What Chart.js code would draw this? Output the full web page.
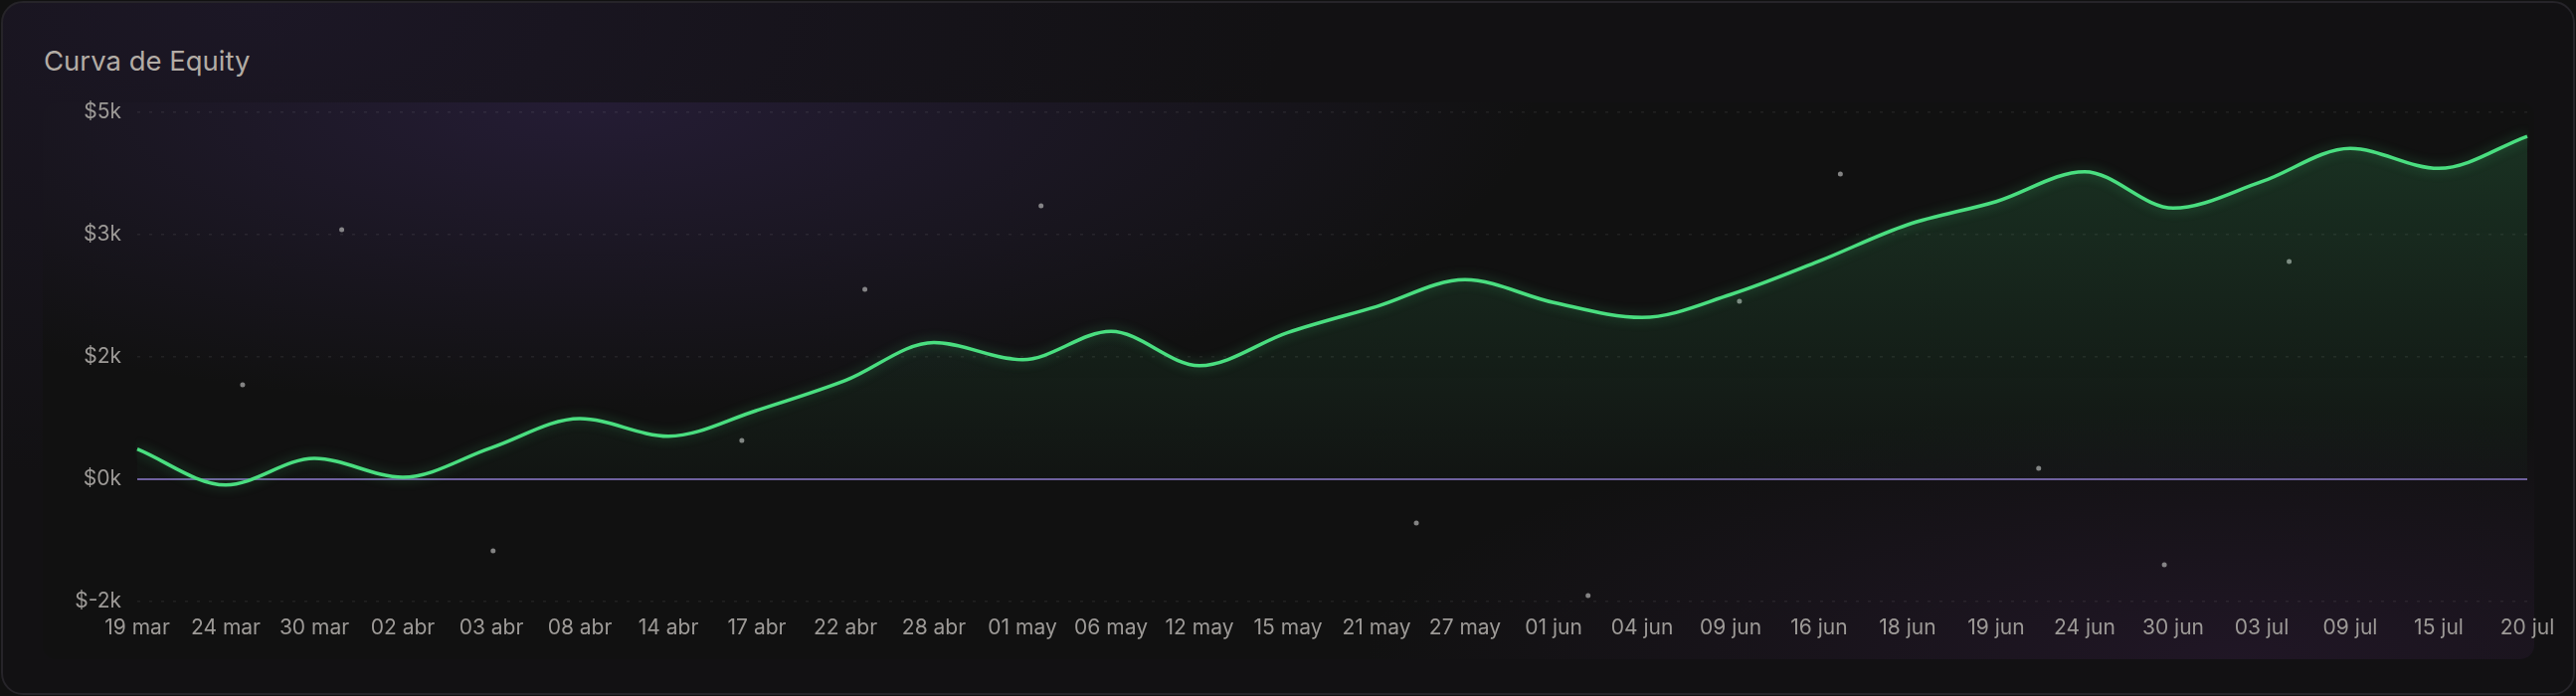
<!DOCTYPE html>
<html lang="es">
<head>
<meta charset="utf-8">
<title>Curva de Equity</title>
<script src="https://cdn.jsdelivr.net/npm/chart.js@4.4.1/dist/chart.umd.min.js"></script>
<style>
    html, body {
        margin: 0;
        padding: 0;
        background: #111111;
        width: 2590px;
        height: 700px;
        overflow: hidden;
        font-family: Inter, "Noto Sans", sans-serif;
    }
    .card {
        position: absolute;
        left: 1px;
        top: 1px;
        width: 2584px;
        height: 694px;
        border: 2px solid #262429;
        border-radius: 22px;
        background:
            radial-gradient(ellipse 40% 70% at 10% 0%, rgba(40, 30, 60, 0.45), transparent),
            #121113;
    }
    .card h2 {
        position: absolute;
        left: 41px;
        top: 41px;
        margin: 0;
        font-size: 27.5px;
        font-weight: 400;
        color: #b3aca5;
    }
    .panel {
        position: absolute;
        left: 43px;
        top: 103px;
        width: 2505px;
        height: 560px;
        border-radius: 14px;
        background:
            radial-gradient(ellipse 38% 55% at 22% 0%, rgba(60, 42, 95, 0.45), transparent),
            radial-gradient(ellipse 35% 45% at 88% 100%, rgba(60, 32, 75, 0.35), transparent),
            #111111;
    }
    #equity-chart {
        position: absolute;
        left: 0;
        top: 0;
    }
</style>
</head>
<body>
<div class="card"><h2>Curva de Equity</h2></div>
<div class="panel"></div>
<canvas id="equity-chart" width="2590" height="700"></canvas>
<script>
const dateLabels = [
    '19 mar', '24 mar', '30 mar', '02 abr', '03 abr', '08 abr', '14 abr', '17 abr', '22 abr', '28 abr',
    '01 may', '06 may', '12 may', '15 may', '21 may', '27 may',
    '01 jun', '04 jun', '09 jun', '16 jun', '18 jun', '19 jun', '24 jun', '30 jun',
    '03 jul', '09 jul', '15 jul', '20 jul'
];

const equityValues = [
    370, -70, 256, 24, 386, 744, 528, 845, 1211, 1677,
    1467, 1813, 1394, 1801, 2118, 2447,
    2167, 1984, 2265, 2675, 3122, 3406, 3772, 3325,
    3650, 4057, 3813, 4207
];

const yTicks = { min: -1500, max: 4500, step: 1500 };

// little background sparkles (x in label index units, y in $)
const sparkleX = [1.19, 2.31, 4.02, 6.83, 8.22, 10.21, 14.45, 16.39, 18.10, 19.24, 21.48, 22.90, 24.31];
const sparkleY = [1159, 3061, -878, 476, 2329, 3354, -537, -1427, 2183, 3744, 134, -1049, 2671];

const lineGreen = '#4ade80';

const glowPlugin = {
    id: 'glow',
    beforeDatasetDraw(chart, args) {
        if (args.index !== 0) return;
        const ctx = chart.ctx;
        ctx.save();
        ctx.shadowColor = 'rgba(74, 222, 128, 0.35)';
        ctx.shadowBlur = 12;
    },
    afterDatasetDraw(chart, args) {
        if (args.index !== 0) return;
        chart.ctx.restore();
    }
};

const zeroLinePlugin = {
    id: 'zeroLine',
    beforeDatasetsDraw(chart) {
        const { ctx, chartArea, scales } = chart;
        const y = scales.y.getPixelForValue(0);
        ctx.save();
        ctx.strokeStyle = '#6f5f9e';
        ctx.lineWidth = 2;
        ctx.beginPath();
        ctx.moveTo(chartArea.left, y);
        ctx.lineTo(chartArea.right, y);
        ctx.stroke();
        ctx.restore();
    }
};

function areaGradient(context) {
    const { chart } = context;
    const { ctx, chartArea, scales } = chart;
    if (!chartArea) return 'rgba(74, 222, 128, 0.1)';
    const g = ctx.createLinearGradient(0, chartArea.top, 0, scales.y.getPixelForValue(0));
    g.addColorStop(0, 'rgba(74, 222, 128, 0.17)');
    g.addColorStop(1, 'rgba(74, 222, 128, 0.02)');
    return g;
}

const ctx = document.getElementById('equity-chart').getContext('2d');

new Chart(ctx, {
    type: 'line',
    data: {
        labels: dateLabels,
        datasets: [{
            label: 'Equity',
            data: equityValues,
            borderColor: lineGreen,
            borderWidth: 3.5,
            backgroundColor: areaGradient,
            fill: 'origin',
            cubicInterpolationMode: 'monotone',
            pointRadius: 0,
            order: 1
        }, {
            type: 'scatter',
            label: 'sparkles',
            xAxisID: 'xs',
            data: sparkleX.map((x, i) => ({ x: x, y: sparkleY[i] })),
            pointRadius: 2.5,
            pointBackgroundColor: 'rgba(170, 170, 170, 0.75)',
            pointBorderWidth: 0,
            order: 2
        }]
    },
    options: {
        responsive: false,
        devicePixelRatio: 1,
        animation: false,
        layout: {
            padding: { top: 113, right: 49, bottom: 57, left: 0 }
        },
        plugins: {
            legend: { display: false },
            tooltip: { enabled: false }
        },
        scales: {
            x: {
                grid: { display: false },
                border: { display: false },
                ticks: {
                    color: '#9d9a97',
                    font: { family: 'Inter', size: 21 },
                    padding: 6,
                    autoSkip: false,
                    maxRotation: 0
                },
                afterFit(scale) { scale.height = 38; }
            },
            xs: {
                type: 'linear',
                display: false,
                min: 0,
                max: dateLabels.length - 1
            },
            y: {
                min: yTicks.min,
                max: yTicks.max,
                grid: {
                    color: 'rgba(255, 255, 255, 0.07)',
                    lineWidth: 1.5,
                    drawTicks: false
                },
                border: { display: false, dash: [3, 9] },
                ticks: {
                    stepSize: yTicks.step,
                    color: '#9d9a97',
                    font: { family: 'Inter', size: 21 },
                    padding: 16,
                    callback: v => '$' + (v / 1000).toFixed(0) + 'k'
                },
                afterFit(scale) { scale.width = 138; }
            }
        }
    },
    plugins: [zeroLinePlugin, glowPlugin]
});
</script>
</body>
</html>
